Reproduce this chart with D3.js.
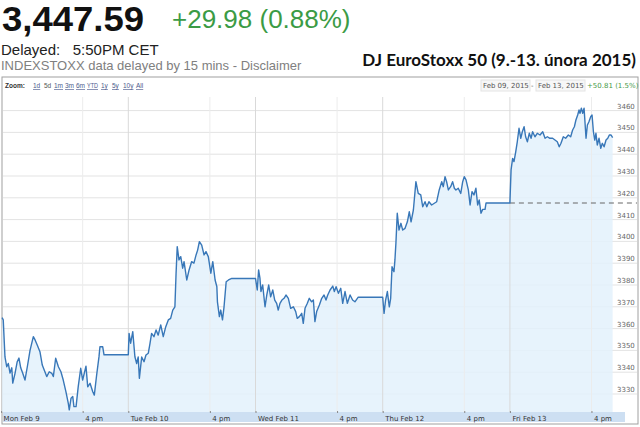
<!DOCTYPE html>
<html>
<head>
<meta charset="utf-8">
<script src="https://cdn.jsdelivr.net/npm/d3@7"></script>
<style>
body { margin: 0; background: #fff; }
svg { display: block; }
</style>
</head>
<body>
<svg width="640" height="427"></svg>
<script>
// --- data ---
const dayLabels = ['Mon Feb 9', 'Tue Feb 10', 'Wed Feb 11', 'Thu Feb 12', 'Fri Feb 13'];
const zoomLinks = ['1d', '5d', '1m', '3m', '6m', 'YTD', '1y', '5y', '10y', 'All'];
const yTicks = [3330, 3340, 3350, 3360, 3370, 3380, 3390, 3400, 3410, 3420, 3430, 3440, 3450, 3460];
const lastPrice = '3,447.59';
const change = '+29.98 (0.88%)';
const prevClose = 3417.61;

const mon = [
	['09:05', 3365], ['09:11', 3364], ['09:20', 3347], ['09:29', 3342.5], ['09:37', 3344], ['09:46', 3339.6],
	['09:55', 3342], ['10:00', 3335], ['10:12', 3339.6], ['10:23', 3344.8], ['10:32', 3346.5], ['10:41', 3342],
	['10:51', 3339.6], ['11:03', 3336.4], ['11:15', 3342.5], ['11:29', 3350], ['11:46', 3356.3], ['11:55', 3354.8],
	['12:06', 3352.5], ['12:20', 3349.4], ['12:32', 3343.3], ['12:42', 3341], ['12:55', 3338], ['13:08', 3340.2],
	['13:21', 3339.5], ['13:29', 3338], ['13:41', 3346.4], ['13:55', 3342.5], ['14:08', 3340.2], ['14:20', 3336.4],
	['14:34', 3331], ['14:46', 3325.7], ['14:51', 3322.7], ['15:00', 3328], ['15:09', 3328.8], ['15:15', 3324.2],
	['15:26', 3324.2], ['15:37', 3333.3], ['15:50', 3341.8], ['16:00', 3336.4], ['16:17', 3342.8], ['16:26', 3333.3],
	['16:38', 3334.9], ['16:52', 3331], ['17:00', 3329.5], ['17:12', 3338.7], ['17:24', 3347], ['17:29', 3351.7],
	['17:43', 3351.7], ['17:50', 3348], ['19:55', 3348]
];
const tue = [
	['09:04', 3357.8], ['09:12', 3353.3], ['09:23', 3358.6], ['09:34', 3347.1], ['09:43', 3344], ['09:51', 3347],
	['09:57', 3337.2], ['10:09', 3347], ['10:21', 3344.8], ['10:31', 3347.9], ['10:43', 3348.7], ['10:52', 3353.3],
	['11:00', 3357.8], ['11:12', 3356.3], ['11:23', 3359.4], ['11:34', 3357], ['11:47', 3361.7], ['12:00', 3356.3],
	['12:13', 3360.9], ['12:26', 3364], ['12:38', 3364.7], ['12:49', 3368.5], ['13:00', 3370], ['13:06', 3385.4],
	['13:12', 3397.6], ['13:21', 3391.5], ['13:30', 3393], ['13:40', 3387.7], ['13:47', 3390.7], ['14:01', 3382.3],
	['14:13', 3386.9], ['14:26', 3390.7], ['14:38', 3390], ['14:49', 3393.8], ['14:57', 3396], ['15:06', 3399.9],
	['15:18', 3398.3], ['15:30', 3393.8], ['15:40', 3395.3], ['15:52', 3393], ['16:05', 3385.4], ['16:15', 3390.7],
	['16:27', 3382.3], ['16:36', 3379.2], ['16:39', 3372.3], ['16:49', 3365.5], ['16:56', 3368.5], ['17:05', 3364],
	['17:13', 3370], ['17:24', 3381.5], ['17:36', 3382.3], ['17:53', 3383], ['19:55', 3383]
];
const wed = [
	['09:09', 3377.7], ['09:16', 3386.9], ['09:23', 3383], ['09:28', 3377], ['09:37', 3380], ['09:49', 3370],
	['09:58', 3375.4], ['10:08', 3380], ['10:18', 3374.6], ['10:29', 3377.7], ['10:39', 3373.1], ['10:49', 3371.6],
	['10:57', 3368.5], ['11:06', 3371.6], ['11:16', 3373.1], ['11:27', 3373.9], ['11:37', 3375.4], ['11:49', 3373.9],
	['12:01', 3369.3], ['12:15', 3370], ['12:27', 3367.8], ['12:35', 3364.7], ['12:46', 3365.5], ['12:58', 3367],
	['13:06', 3362.4], ['13:15', 3369.3], ['13:27', 3371.6], ['13:37', 3373.9], ['13:49', 3372.3], ['13:58', 3373.1],
	['14:06', 3363.2], ['14:15', 3367.8], ['14:29', 3370.8], ['14:41', 3373.9], ['14:53', 3375.4], ['15:03', 3373.1],
	['15:12', 3375.4], ['15:24', 3377.7], ['15:38', 3379.5], ['15:46', 3377], ['15:55', 3379.2], ['16:07', 3376.2],
	['16:19', 3378.5], ['16:29', 3371.6], ['16:41', 3377], ['16:53', 3371.6], ['17:07', 3375.4], ['17:20', 3373.1],
	['17:32', 3372.3], ['17:49', 3374.4], ['19:55', 3374.4]
];
const thu = [
	['09:07', 3367], ['09:15', 3373.1], ['09:24', 3377], ['09:34', 3370], ['09:41', 3373.9], ['09:48', 3388.4],
	['09:58', 3386.1], ['10:03', 3391.5], ['10:08', 3399.1], ['10:15', 3412.9], ['10:24', 3405.2], ['10:34', 3408.3],
	['10:43', 3405.2], ['10:55', 3406], ['11:07', 3409], ['11:17', 3413.6], ['11:26', 3409], ['11:38', 3414.4],
	['11:51', 3427.4], ['12:03', 3422], ['12:16', 3421.3], ['12:26', 3415.9], ['12:38', 3418.2], ['12:47', 3415.9],
	['12:58', 3418.2], ['13:12', 3416.7], ['13:26', 3417.5], ['13:38', 3418.2], ['13:51', 3423.6], ['14:04', 3427.4],
	['14:12', 3425.1], ['14:21', 3429.7], ['14:29', 3427.4], ['14:38', 3423.6], ['14:50', 3425.1], ['15:00', 3427.4],
	['15:09', 3424.4], ['15:17', 3423.6], ['15:29', 3424.4], ['15:42', 3422], ['15:52', 3427.4], ['16:00', 3429.7],
	['16:09', 3428.2], ['16:21', 3423.6], ['16:30', 3416.7], ['16:40', 3422.8], ['16:50', 3421.3], ['17:00', 3424.4],
	['17:09', 3416.7], ['17:17', 3419], ['17:26', 3412.9], ['17:35', 3414.7], ['17:47', 3414.7], ['17:52', 3417.6],
	['19:55', 3417.6]
];
const fri = [
	['09:06', 3432.8], ['09:14', 3438.1], ['09:21', 3436.6], ['09:30', 3441.1], ['09:38', 3445.7], ['09:47', 3451.9],
	['09:56', 3447.3], ['10:04', 3450.3], ['10:13', 3452.6], ['10:21', 3448], ['10:30', 3445.7], ['10:40', 3449.6],
	['10:49', 3447.3], ['10:57', 3450.3], ['11:09', 3448], ['11:21', 3449.6], ['11:35', 3448.8], ['11:49', 3450.3],
	['12:01', 3447.3], ['12:13', 3448], ['12:26', 3447.3], ['12:40', 3447.3], ['12:52', 3446.5], ['13:04', 3445.7],
	['13:14', 3443.4], ['13:23', 3445], ['13:35', 3448], ['13:47', 3447.3], ['14:01', 3448.8], ['14:13', 3448],
	['14:23', 3451.1], ['14:32', 3452.6], ['14:40', 3455.7], ['14:49', 3458], ['14:56', 3460.3], ['15:01', 3458.8],
	['15:08', 3461.1], ['15:15', 3458.8], ['15:22', 3461.1], ['15:27', 3454.2], ['15:32', 3447.3], ['15:39', 3453.4],
	['15:47', 3454.9], ['15:56', 3457.2], ['16:03', 3458], ['16:10', 3450.3], ['16:17', 3446.5], ['16:23', 3449.6],
	['16:30', 3444.2], ['16:39', 3447.3], ['16:48', 3442.7], ['16:56', 3445], ['17:05', 3443.4], ['17:15', 3446.5],
	['17:24', 3447.3], ['17:32', 3448.8], ['17:41', 3448.8], ['17:49', 3447.59]
];

// --- setup ---
const svg = d3.select('svg');
const OPEN = 9 * 60;     // session starts 9:00
const LEN = 655;         // minutes one day takes on the axis
const plotTop = 97;
const plotBottom = 412;

const toMin = s => {
	const [h, m] = s.split(':').map(Number);
	return h * 60 + m - OPEN;
};

const series = [mon, tue, wed, thu, fri].flatMap((day, i) =>
	day.map(([t, v]) => ({ t: i * LEN + toMin(t), v })));

const xScale = d3.scaleLinear()
	.domain([0, 5 * LEN])
	.range([1.1, 637.1]);

const yScale = d3.scaleLinear()
	.domain([3330, 3460])
	.range([394, 110.6]);

// --- header ---
svg.append('text')
	.attr('x', 2).attr('y', 31)
	.attr('font-family', 'Liberation Sans, Arial, sans-serif')
	.attr('font-weight', 'bold')
	.attr('font-size', 35)
	.attr('fill', '#111')
	.attr('textLength', 142)
	.attr('lengthAdjust', 'spacingAndGlyphs')
	.text(lastPrice);

svg.append('text')
	.attr('x', 172).attr('y', 28)
	.attr('font-family', 'Liberation Sans, Arial, sans-serif')
	.attr('font-size', 26)
	.attr('fill', '#3b9b45')
	.text(change);

svg.append('text')
	.attr('x', 1).attr('y', 55)
	.attr('font-family', 'Liberation Sans, Arial, sans-serif')
	.attr('font-size', 15)
	.attr('fill', '#222')
	.attr('xml:space', 'preserve')
	.text('Delayed:   5:50PM CET');

svg.append('text')
	.attr('x', 1).attr('y', 70)
	.attr('font-family', 'Liberation Sans, Arial, sans-serif')
	.attr('font-size', 13)
	.attr('fill', '#808080')
	.text('INDEXSTOXX data delayed by 15 mins - Disclaimer');

svg.append('text')
	.attr('x', 636).attr('y', 66)
	.attr('text-anchor', 'end')
	.attr('font-family', 'Lato, sans-serif')
	.attr('font-weight', 'bold')
	.attr('font-size', 17)
	.attr('fill', '#111')
	.text('DJ EuroStoxx 50 (9.-13. února 2015)');

// --- chart frame ---
svg.append('rect')
	.attr('x', 2).attr('y', 77)
	.attr('width', 636).attr('height', 347)
	.attr('fill', '#fff')
	.attr('stroke', '#a0a0a0');

// zoom toolbar
const bar = svg.append('g')
	.attr('font-family', 'Liberation Sans, Arial, sans-serif')
	.attr('font-size', 6.5);

bar.append('text')
	.attr('x', 5).attr('y', 88)
	.attr('font-weight', 'bold')
	.attr('fill', '#333')
	.text('Zoom:');

const linkX = [33, 44, 54, 65, 76, 87, 101, 112, 123, 136];
bar.selectAll('text.link').data(zoomLinks)
	.enter().append('text')
		.attr('class', 'link')
		.attr('x', (d, i) => linkX[i])
		.attr('y', 88)
		.attr('fill', d => d === '5d' ? '#555' : '#4c5a8c')
		.attr('text-decoration', d => d === '5d' ? 'none' : 'underline')
		.attr('textLength', d => d === 'YTD' ? 11 : null)
		.attr('lengthAdjust', 'spacingAndGlyphs')
		.text(d => d);

// date range boxes
const rangeG = svg.append('g')
	.attr('font-family', 'DejaVu Sans, Verdana, sans-serif')
	.attr('font-size', 7)
	.attr('fill', '#555');

[[481, 'Feb 09, 2015'], [536, 'Feb 13, 2015']].forEach(([x, s]) => {
	rangeG.append('rect')
		.attr('x', x).attr('y', 80)
		.attr('width', 49).attr('height', 11)
		.attr('fill', '#f7f7f7')
		.attr('stroke', '#e4e4e4');
	rangeG.append('text').attr('x', x + 2).attr('y', 88).text(s);
});
rangeG.append('text').attr('x', 531).attr('y', 88).text('-');
rangeG.append('text').attr('x', 587).attr('y', 88).attr('fill', '#4a9a4a').text('+50.81 (1.5%)');

// --- plot ---
const g = svg.append('g');

// horizontal grid
g.selectAll('line.hgrid').data(yTicks)
	.enter().append('line')
		.attr('x1', 3).attr('x2', 637)
		.attr('y1', d => yScale(d)).attr('y2', d => yScale(d))
		.attr('stroke', '#e3e3e3');

// area under line
const area = d3.area()
	.x(d => xScale(d.t))
	.y0(plotBottom)
	.y1(d => yScale(d.v));

g.append('path')
	.datum(series)
	.attr('d', area)
	.attr('fill', '#e3f1fb')
	.attr('fill-opacity', 0.85);

// vertical grid: day starts and 4 pm
const dayStarts = d3.range(5).map(i => i * LEN);
const fourPm = d3.range(5).map(i => i * LEN + 16 * 60 - OPEN);

g.selectAll('line.day').data(dayStarts.slice(1))
	.enter().append('line')
		.attr('x1', d => xScale(d)).attr('x2', d => xScale(d))
		.attr('y1', plotTop).attr('y2', plotBottom)
		.attr('stroke', '#d9d9d9');

g.selectAll('line.pm').data(fourPm)
	.enter().append('line')
		.attr('x1', d => xScale(d)).attr('x2', d => xScale(d))
		.attr('y1', plotTop).attr('y2', plotBottom)
		.attr('stroke', '#ececec');

// previous close, dashed from Friday open
g.append('line')
	.attr('x1', xScale(4 * LEN)).attr('x2', 637)
	.attr('y1', yScale(prevClose)).attr('y2', yScale(prevClose))
	.attr('stroke', '#666')
	.attr('stroke-dasharray', '5,4');

// price line
const line = d3.line()
	.x(d => xScale(d.t))
	.y(d => yScale(d.v));

g.append('path')
	.datum(series)
	.attr('d', line)
	.attr('fill', 'none')
	.attr('stroke', '#3877b8')
	.attr('stroke-width', 1.4)
	.attr('stroke-linejoin', 'round');

// y labels on the right
g.selectAll('text.ylab').data(yTicks)
	.enter().append('text')
		.attr('x', 617)
		.attr('y', d => yScale(d) - 2)
		.attr('font-family', 'DejaVu Sans, Verdana, sans-serif')
		.attr('font-size', 7)
		.attr('fill', '#666')
		.text(d => d);

// --- x axis band ---
svg.append('rect')
	.attr('x', 3).attr('y', plotBottom)
	.attr('width', 622).attr('height', 10)
	.attr('fill', '#cddff2');

const xAxis = d3.axisTop(xScale)
	.tickValues(dayStarts.concat(fourPm).sort(d3.ascending))
	.tickSize(2)
	.tickFormat(d => {
		const i = dayStarts.indexOf(d);
		return i >= 0 ? dayLabels[i] : '4 pm';
	});

const xAxisGroup = svg.append('g')
	.attr('transform', `translate(0, ${plotBottom + 1})`)
	.call(xAxis);

xAxisGroup.select('.domain').remove();
xAxisGroup.selectAll('.tick line').attr('stroke', '#888');
xAxisGroup.selectAll('.tick text')
	.attr('text-anchor', 'start')
	.attr('x', 2)
	.attr('y', 7.5)
	.attr('font-family', 'DejaVu Sans, Verdana, sans-serif')
	.attr('font-size', 7)
	.attr('fill', '#333');
</script>
</body>
</html>
